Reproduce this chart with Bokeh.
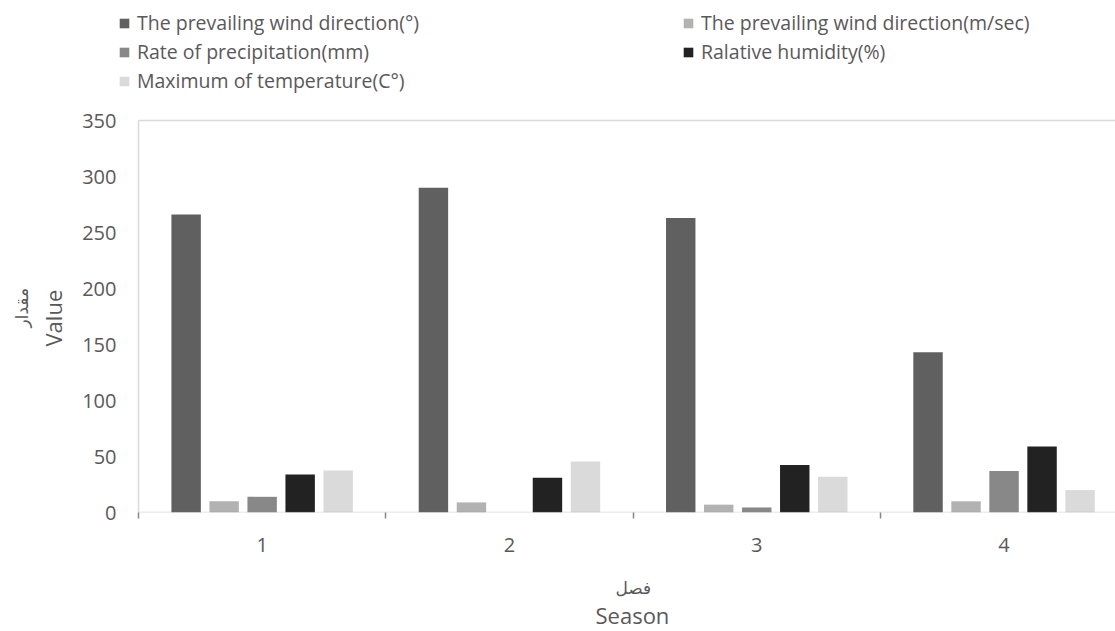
from bokeh.plotting import figure
from bokeh.models import Range1d, FixedTicker, Legend, LegendItem, BoxAnnotation, Title
from bokeh.embed import file_html
from bokeh.resources import INLINE

seasons = [1, 2, 3, 4]
season_labels = ["1", "2", "3", "4"]
wind_dir = [266, 290, 263, 143]
wind_speed = [10, 9, 7, 10]
precip = [14, 0, 4.5, 37]
humidity = [34, 31, 42.5, 59]
max_temp = [37.5, 45.5, 32, 20]
y_ticks = [0, 50, 100, 150, 200, 250, 300, 350]

series_names = [
    "The prevailing wind direction(°)",
    "The prevailing wind direction(m/sec)",
    "Rate of precipitation(mm)",
    "Ralative humidity(%)",
    "Maximum of temperature(C°)",
]
series_values = [wind_dir, wind_speed, precip, humidity, max_temp]
colors = ["#606060", "#b2b2b2", "#888888", "#222222", "#dadada"]

FONT = "Open Sans"
AR_FONT = "DejaVu Sans"
TXT = "#595959"
AX = "#878787"

# frame spans the legend area too, so the legend is not clipped
X0 = 0.5 - 20 / 247.3
X1 = 0.5 + 977 / 247.3
YTOP = 512 / 1.12

p = figure(width=1115, height=631, output_backend="svg", toolbar_location=None,
           x_range=Range1d(X0, X1), y_range=Range1d(0, YTOP),
           min_border_left=118, min_border_right=0, min_border_top=0, min_border_bottom=119)
p.frame_width = 997
p.frame_height = 512
p.outline_line_color = None
p.xgrid.visible = False
p.ygrid.visible = False

step = 0.1537
bw = 0.119
renderers = []
for i, (name, vals, col) in enumerate(zip(series_names, series_values, colors)):
    off = (i - 2) * step
    xs = [s + off for s in seasons]
    r = p.vbar(x=xs, top=vals, width=bw, bottom=0, fill_color=col, line_color=None)
    renderers.append(r)

# plot-area border (left, top, bottom)
p.add_layout(BoxAnnotation(left=0.5, right=X1 + 1, bottom=0, top=350, fill_alpha=0,
                           line_color=AX, line_width=1.5))

xa = p.xaxis[0]
xa.ticker = FixedTicker(ticks=seasons, minor_ticks=[0.5, 1.5, 2.5, 3.5])
xa.major_label_overrides = {s: l for s, l in zip(seasons, season_labels)}
xa.major_tick_line_color = None
xa.major_tick_out = 0
xa.major_tick_in = 0
xa.minor_tick_line_color = AX
xa.minor_tick_line_width = 1.5
xa.minor_tick_out = 6
xa.minor_tick_in = 0
xa.axis_line_color = None
xa.major_label_text_font = FONT
xa.major_label_text_font_size = "20px"
xa.major_label_text_color = TXT
xa.major_label_standoff = 19

ya = p.yaxis[0]
ya.ticker = FixedTicker(ticks=y_ticks)
ya.major_tick_line_color = None
ya.major_tick_out = 0
ya.major_tick_in = 0
ya.minor_tick_line_color = None
ya.axis_line_color = None
ya.major_label_text_font = FONT
ya.major_label_text_font_size = "20px"
ya.major_label_text_color = TXT
ya.major_label_standoff = 2

p.add_layout(Title(text="فصل", align="left", offset=497, text_font=AR_FONT, text_font_size="17px",
                   text_font_style="normal", text_color=TXT, standoff=42), "below")
p.add_layout(Title(text="Season", align="left", offset=477, text_font=FONT, text_font_size="22px",
                   text_font_style="normal", text_color=TXT, standoff=-38,
                   vertical_align="top"), "below")
p.add_layout(Title(text="Value", align="left", offset=166, text_font=FONT, text_font_size="22px",
                   text_font_style="normal", text_color=TXT, standoff=24), "left")
p.add_layout(Title(text="مقدار", align="left", offset=185, text_font=AR_FONT, text_font_size="17px",
                   text_font_style="normal", text_color=TXT, standoff=-16), "left")

legend = Legend(items=[LegendItem(label=n, renderers=[r]) for n, r in zip(series_names, renderers)],
                location=(0, 417), orientation="horizontal", ncols=2,
                glyph_width=12, glyph_height=12, label_standoff=7, label_width=545,
                label_height=29, spacing=0, padding=0, margin=0,
                label_text_font=FONT, label_text_font_size="19.5px", label_text_color=TXT,
                border_line_color=None, background_fill_alpha=0)
p.add_layout(legend, "center")

open("out.html", "w").write(file_html(p, INLINE))
